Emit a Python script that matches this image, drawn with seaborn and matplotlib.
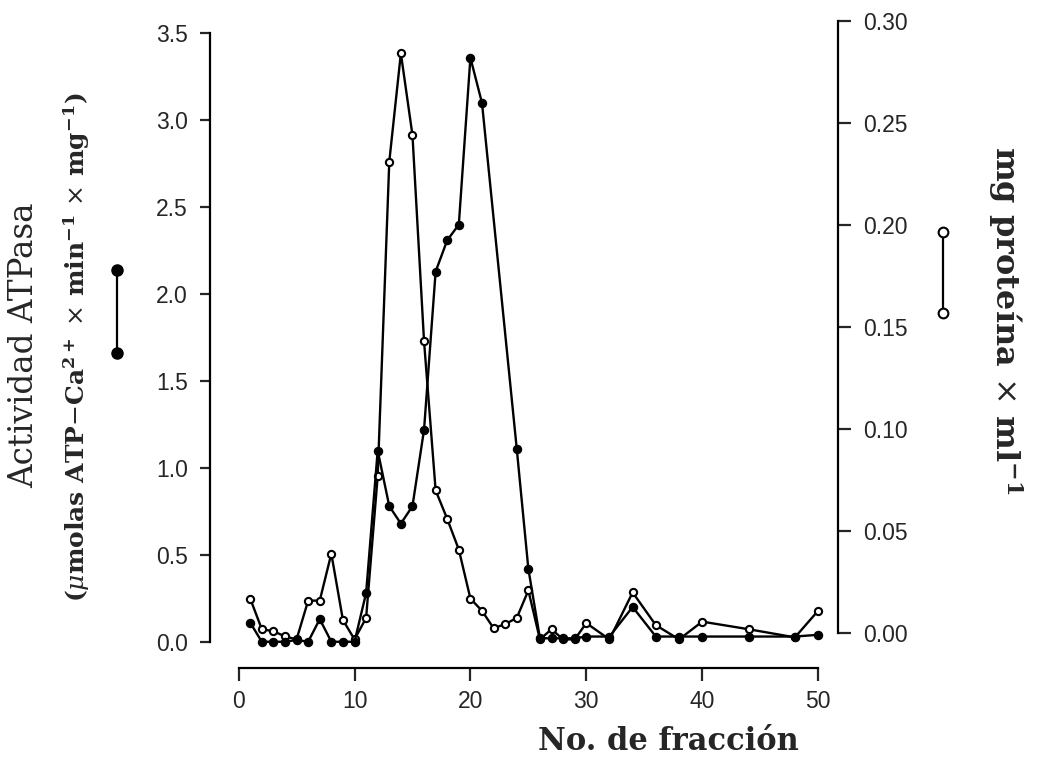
import matplotlib
matplotlib.use("Agg")
import matplotlib.pyplot as plt
import seaborn as sns
from matplotlib.lines import Line2D
from matplotlib.ticker import FormatStrFormatter

# ---- data ----
fraction_atp = [1, 2, 3, 4, 5, 6, 7, 8, 9, 10, 11, 12, 13, 14, 15, 16, 17, 18, 19, 20, 21,
                24, 25, 26, 27, 28, 29, 30, 32, 34, 36, 38, 40, 44, 48, 50]
atpase = [0.11, 0.0, 0.0, 0.0, 0.01, 0.0, 0.13, 0.0, 0.0, 0.0, 0.28, 1.10, 0.78, 0.68, 0.78,
          1.22, 2.13, 2.31, 2.40, 3.36, 3.10, 1.11, 0.42, 0.02, 0.02, 0.02, 0.02, 0.03, 0.03,
          0.20, 0.03, 0.03, 0.03, 0.03, 0.03, 0.04]

fraction_prot = [1, 2, 3, 4, 5, 6, 7, 8, 9, 10, 11, 12, 13, 14, 15, 16, 17, 18, 19, 20, 21,
                 22, 23, 24, 25, 26, 27, 28, 29, 30, 32, 34, 36, 38, 40, 44, 48, 50]
protein = [0.017, 0.002, 0.001, -0.0015, -0.003, 0.016, 0.016, 0.039, 0.0065, -0.003, 0.0075,
           0.077, 0.231, 0.284, 0.244, 0.143, 0.070, 0.056, 0.041, 0.017, 0.011, 0.0025,
           0.0045, 0.0075, 0.021, -0.003, 0.002, -0.003, -0.003, 0.005, -0.003, 0.020, 0.004,
           -0.003, 0.0057, 0.002, -0.002, 0.011]

x_ticks = [0, 10, 20, 30, 40, 50]
left_ticks = [0.0, 0.5, 1.0, 1.5, 2.0, 2.5, 3.0, 3.5]
right_ticks = [0.00, 0.05, 0.10, 0.15, 0.20, 0.25, 0.30]

# ---- style ----
sns.set_style("ticks")
plt.rcParams["font.family"] = ["Liberation Sans", "DejaVu Sans"]
plt.rcParams["mathtext.fontset"] = "dejavuserif"

W, H = 1037, 783
fig = plt.figure(figsize=(W / 100, H / 100), dpi=100)
fig.patch.set_facecolor("white")

L, R, B, T = 210, 838, 668, 15
ax = fig.add_axes([L / W, 1 - B / H, (R - L) / W, (B - T) / H])
ax2 = ax.twinx()
# filled series on top of the open one
ax.set_zorder(ax2.get_zorder() + 1)
ax.patch.set_visible(False)
ax2.patch.set_facecolor("white")

lw = 1.7
sns.lineplot(x=fraction_prot, y=protein, ax=ax2, color="black", linewidth=lw,
             marker="o", markersize=5.2, markerfacecolor="white",
             markeredgecolor="black", markeredgewidth=1.5, estimator=None, legend=False)
sns.lineplot(x=fraction_atp, y=atpase, ax=ax, color="black", linewidth=lw,
             marker="o", markersize=5.8, markerfacecolor="black",
             markeredgecolor="black", markeredgewidth=1.0, estimator=None, legend=False)

ax.set_xlim(-2.47, 51.72)
ax.set_ylim(-0.151, 3.606)
ax2.set_ylim(-0.017, 0.3028)

ax.set_xlabel("")
ax.set_ylabel("")
ax2.set_ylabel("")

ax.set_xticks(x_ticks)
ax.set_yticks(left_ticks)
ax2.set_yticks(right_ticks)
ax.yaxis.set_major_formatter(FormatStrFormatter("%.1f"))
ax2.yaxis.set_major_formatter(FormatStrFormatter("%.2f"))

for a in (ax, ax2):
    for s in a.spines.values():
        s.set_linewidth(1.6)
        s.set_color("black")
ax.spines["top"].set_visible(False)
ax.spines["right"].set_visible(False)
ax.spines["bottom"].set_bounds(0, 50)
ax.spines["left"].set_bounds(0, 3.5)
ax2.spines["top"].set_visible(False)
ax2.spines["left"].set_visible(False)
ax2.spines["bottom"].set_visible(False)
ax2.spines["right"].set_bounds(0, 0.30)

ax.tick_params(axis="x", direction="out", length=9, width=1.6, pad=7, labelsize=16.5)
ax.tick_params(axis="y", direction="out", length=7, width=1.6, pad=9, labelsize=16.5)
ax2.tick_params(axis="y", direction="out", length=9, width=1.6, pad=9, labelsize=16.5)

# ---- texts ----
def px(x, y):
    return x / W, 1 - y / H

fig.text(*px(24, 345), "Actividad ATPasa", rotation=90, ha="center", va="center",
         family="DejaVu Serif", fontsize=23.5)
fig.text(*px(77, 347),
         r"($\mu$molas ATP$-$Ca$^{\mathbf{2+}}$ $\times$ min$^{\mathbf{-1}}$ $\times$ mg$^{\mathbf{-1}}$)",
         rotation=90, ha="center", va="center", family="DejaVu Serif",
         fontweight="bold", fontsize=18)
fig.text(*px(1005, 320), r"mg proteína $\times$ ml$^{\mathbf{-1}}$", rotation=270,
         ha="center", va="center", family="DejaVu Serif", fontweight="bold", fontsize=23)
fig.text(*px(668, 742), "No. de fracción", ha="center", va="center",
         family="DejaVu Serif", fontweight="bold", fontsize=22)

# ---- legend keys ----
fig.add_artist(Line2D([116.7 / W, 116.7 / W], [1 - 270 / H, 1 - 352.7 / H], color="black",
                      linewidth=1.6, marker="o", markersize=8, markerfacecolor="black",
                      markeredgecolor="black", transform=fig.transFigure))
fig.add_artist(Line2D([943 / W, 943 / W], [1 - 232 / H, 1 - 313 / H], color="black",
                      linewidth=1.6, marker="o", markersize=7, markerfacecolor="white",
                      markeredgecolor="black", markeredgewidth=1.5, transform=fig.transFigure))

fig.savefig("out.png", dpi=100, facecolor="white")
